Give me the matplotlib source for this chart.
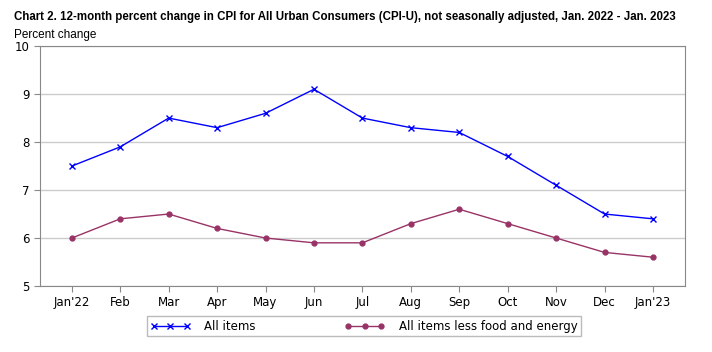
import matplotlib.pyplot as plt

months = ["Jan'22", "Feb", "Mar", "Apr", "May", "Jun", "Jul", "Aug", "Sep",
          "Oct", "Nov", "Dec", "Jan'23"]
all_items = [7.5, 7.9, 8.5, 8.3, 8.6, 9.1, 8.5, 8.3, 8.2, 7.7, 7.1, 6.5, 6.4]
core = [6.0, 6.4, 6.5, 6.2, 6.0, 5.9, 5.9, 6.3, 6.6, 6.3, 6.0, 5.7, 5.6]
yticks = [5, 6, 7, 8, 9, 10]

fig = plt.figure(figsize=(7.12, 3.52), dpi=100)
ax = fig.add_axes([0.056, 0.1875, 0.906, 0.6815])

x = list(range(len(months)))
ax.plot(x, all_items, color="#0000FF", lw=1, marker="x", ms=5, mew=1,
        label="All items")
ax.plot(x, core, color="#993366", lw=1, marker="o", ms=3.5,
        label="All items less food and energy")

ax.set_xlim(-0.66, 12.66)
ax.set_ylim(5, 10)
ax.set_yticks(yticks)
ax.set_xticks(x)
ax.set_xticklabels(months)
ax.grid(axis="y", color="#cccccc", lw=1)
ax.set_axisbelow(True)
for s in ax.spines.values():
    s.set_color("#888888")
ax.tick_params(colors="#888888", labelcolor="black", labelsize=8.5, length=4)

fig.text(0.02, 0.952, "Chart 2. 12-month percent change in CPI for All Urban Consumers (CPI-U), "
         "not seasonally adjusted, Jan. 2022 - Jan. 2023",
         family="Liberation Sans", weight="bold", fontsize=8.3, va="center")
fig.text(0.02, 0.9, "Percent change", family="Liberation Sans",
         fontsize=8.5, va="center")

leg = fig.legend(loc="center", bbox_to_anchor=(0.511, 0.073), ncol=2, fontsize=8.5,
                 frameon=True, fancybox=False, edgecolor="#aaaaaa",
                 numpoints=3, handlelength=3.4, columnspacing=7.5, borderpad=0.3,
                 borderaxespad=0, handletextpad=1.2)
leg.get_frame().set_linewidth(1)

fig.savefig("out.png", dpi=100)
